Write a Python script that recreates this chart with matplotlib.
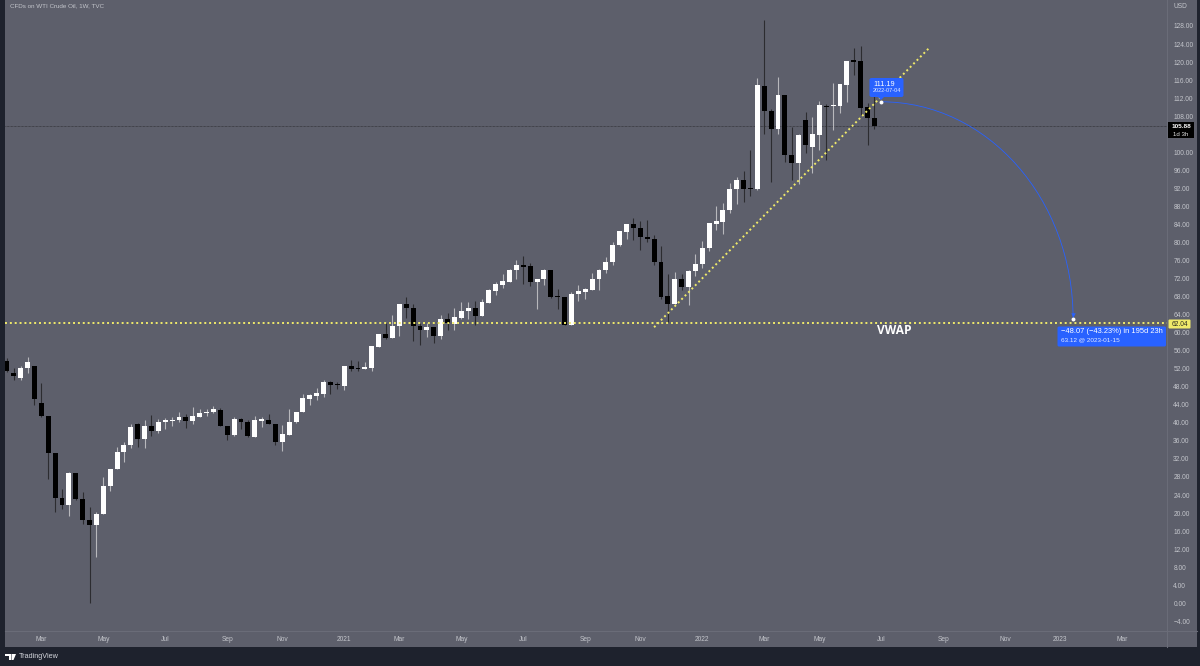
import datetime as dt
import matplotlib; matplotlib.use('Agg')
import matplotlib.pyplot as plt
import matplotlib.dates as mdates
from matplotlib.patches import FancyBboxPatch, PathPatch, Polygon, Rectangle
from matplotlib.path import Path

# weekly WTI candles, first bar 2020-01-27
first_week = dt.date(2020, 1, 27)
opens = [53.7, 51.1, 50.0, 52.2, 52.5, 44.3, 41.5, 33.3, 23.4, 21.8,
         28.8, 23.2, 18.4, 17.3, 19.7, 26.1, 29.7, 33.5, 35.2, 39.8,
         36.4, 39.4, 38.1, 40.2, 40.4, 40.6, 41.2, 40.5, 41.4, 42.1,
         42.3, 42.9, 39.4, 37.2, 40.9, 40.1, 36.9, 40.5, 40.7, 39.7,
         35.7, 37.4, 40.1, 42.3, 45.4, 46.0, 46.5, 49.1, 48.4, 48.2,
         52.6, 52.1, 52.0, 52.1, 56.9, 59.6, 58.9, 61.4, 66.3, 65.5,
         61.4, 60.7, 61.3, 59.3, 63.0, 61.9, 63.3, 64.7, 65.4, 63.7,
         66.5, 69.2, 70.6, 71.2, 73.9, 75.1, 74.7, 71.3, 71.9, 73.8,
         68.1, 67.9, 61.7, 68.5, 69.1, 69.5, 71.8, 73.9, 75.6, 79.4,
         82.4, 84.1, 83.2, 81.3, 80.8, 75.7, 68.1, 66.4, 71.9, 70.2,
         73.6, 75.2, 78.7, 84.2, 84.5, 87.1, 91.9, 93.9, 92.1, 91.8,
         114.8, 109.1, 105.2, 112.6, 99.3, 97.7, 107.2, 101.2, 103.8, 110.3,
         110.3, 110.3, 115.0, 120.4, 120.2, 110.0, 107.5]
highs = [54.3, 52.2, 52.5, 54.5, 52.5, 48.8, 41.5, 33.3, 25.3, 29.2,
         28.9, 24.6, 21.3, 20.3, 27.9, 29.8, 34.6, 35.7, 39.8, 40.0,
         40.6, 41.7, 40.8, 41.0, 41.2, 42.5, 41.9, 43.6, 43.0, 43.0,
         43.8, 43.4, 39.4, 41.4, 41.1, 40.6, 41.5, 41.2, 41.9, 39.7,
         39.5, 43.0, 42.5, 46.4, 46.5, 47.7, 49.4, 49.2, 49.1, 52.6,
         53.9, 53.8, 53.5, 57.0, 59.7, 62.2, 63.9, 66.3, 68.0, 66.4,
         62.2, 62.2, 61.3, 63.9, 64.3, 65.5, 66.8, 66.7, 67.0, 67.4,
         69.6, 71.2, 73.0, 74.1, 76.1, 76.9, 75.4, 72.0, 74.2, 73.8,
         69.6, 68.0, 69.0, 70.6, 69.9, 73.2, 74.1, 76.7, 80.0, 82.5,
         84.1, 85.4, 84.8, 85.0, 81.7, 79.2, 72.9, 73.4, 73.0, 74.0,
         77.4, 80.4, 84.3, 88.0, 88.8, 93.1, 94.6, 95.8, 100.5, 116.4,
         129.3, 109.5, 116.6, 112.6, 105.5, 104.1, 108.9, 107.9, 111.3, 110.6,
         115.4, 115.1, 120.3, 123.2, 123.6, 111.0, 113.8]
lows = [51.2, 49.5, 49.5, 51.0, 44.0, 41.2, 27.5, 20.2, 21.0, 19.4,
        22.8, 17.6, 0.1, 10.3, 19.7, 25.0, 29.7, 31.3, 34.4, 34.6,
        34.4, 37.1, 37.7, 38.6, 39.2, 40.1, 38.9, 39.7, 41.2, 41.5,
        42.2, 39.3, 36.2, 37.0, 38.7, 36.9, 36.9, 39.1, 39.7, 35.1,
        33.8, 37.3, 40.0, 42.3, 44.0, 45.1, 45.8, 46.3, 47.6, 47.3,
        51.6, 51.6, 51.9, 51.6, 56.9, 58.7, 58.9, 59.3, 63.3, 58.2,
        57.3, 59.0, 57.7, 58.7, 60.6, 60.7, 63.1, 63.1, 61.7, 63.7,
        66.5, 68.4, 69.9, 71.2, 72.0, 70.8, 70.4, 65.2, 70.6, 67.7,
        65.2, 61.7, 61.7, 67.1, 67.5, 69.5, 69.5, 73.2, 75.0, 79.2,
        80.8, 80.6, 78.3, 80.0, 75.1, 67.4, 62.4, 66.4, 69.5, 66.2,
        72.6, 74.4, 78.0, 82.8, 81.9, 86.5, 88.5, 89.0, 90.2, 91.6,
        104.1, 93.5, 104.1, 97.8, 93.9, 92.9, 99.9, 95.3, 100.4, 98.3,
        104.9, 108.6, 111.2, 117.1, 108.3, 101.5, 105.1]
closes = [51.6, 50.4, 52.2, 53.4, 45.2, 41.5, 33.3, 23.4, 21.8, 28.8,
          23.1, 18.4, 17.3, 19.8, 26.1, 29.8, 33.5, 35.2, 39.0, 36.5,
          39.4, 38.1, 40.3, 40.6, 40.6, 41.2, 40.5, 41.5, 42.2, 42.3,
          43.0, 39.4, 37.3, 40.9, 40.1, 37.0, 40.6, 40.8, 39.7, 35.8,
          37.5, 40.1, 42.5, 45.5, 46.1, 46.6, 49.1, 48.3, 48.3, 52.6,
          52.0, 52.0, 52.3, 57.0, 59.6, 58.9, 61.5, 66.3, 65.5, 61.4,
          60.7, 61.3, 59.3, 63.1, 62.1, 63.5, 64.8, 65.5, 63.8, 66.7,
          69.4, 70.8, 71.5, 74.0, 75.1, 74.6, 71.3, 72.0, 73.8, 67.9,
          67.9, 61.7, 68.6, 69.2, 69.6, 71.8, 74.0, 75.7, 79.4, 82.5,
          84.1, 83.1, 81.2, 80.8, 75.6, 68.0, 66.4, 71.9, 70.2, 73.7,
          75.3, 78.8, 84.3, 84.8, 87.2, 91.9, 93.9, 91.9, 91.9, 114.9,
          109.1, 105.2, 112.6, 99.3, 97.7, 103.8, 101.6, 104.1, 110.4, 110.0,
          110.5, 115.1, 120.3, 120.1, 109.9, 107.5, 105.88]

# 104.00 sits under the current price tag in the original
price_ticks = [p for p in range(-4, 132, 4) if p != 104]
month_ticks = ['2020-03-02', '2020-05-04', '2020-07-06', '2020-09-07', '2020-11-02',
               '2021-01-04', '2021-03-01', '2021-05-03', '2021-07-05', '2021-09-06',
               '2021-11-01', '2022-01-03', '2022-03-07', '2022-05-02', '2022-07-04',
               '2022-09-05', '2022-11-07', '2023-01-02', '2023-03-06']
month_labels = ['Mar', 'May', 'Jul', 'Sep', 'Nov', '2021', 'Mar', 'May', 'Jul', 'Sep',
                'Nov', '2022', 'Mar', 'May', 'Jul', 'Sep', 'Nov', '2023', 'Mar']

vwap = 62.04
last_price = 105.88
trend_dates = ['2021-11-15', '2022-08-22']
trend_prices = [61.2, 123.2]
proj_start = ('2022-07-04', 111.19)
proj_end = ('2023-01-15', 63.12)

PANE = '#5d5f6b'
DARK = '#1e222d'
BLUE = '#2962ff'
YELLOW = '#f0ea6a'
TEXT = '#c3c5cb'
plt.rcParams['font.family'] = ['Liberation Sans', 'DejaVu Sans']


def num(day):
    return mdates.date2num(dt.date.fromisoformat(day))


fig = plt.figure(figsize=(12, 6.66), dpi=100, facecolor=DARK)

# page furniture in pixel coordinates
bg = fig.add_axes([0, 0, 1, 1], zorder=0)
bg.set_xlim(0, 1200); bg.set_ylim(666, 0); bg.axis('off')
bg.add_patch(Rectangle((5, 0), 1192, 647, fc=PANE, ec='none'))
bg.plot([1167, 1167], [0, 647], color='#6a6c78', lw=0.8)
bg.plot([5, 1197], [631, 631], color='#6a6c78', lw=0.8)

ax = fig.add_axes([5 / 1200, 1 - 631 / 666, 1162 / 1200, 631 / 666], zorder=1)
ax.patch.set_alpha(0)
for s in ax.spines.values():
    s.set_visible(False)

# -- candles
week_px = 6.885
days = [mdates.date2num(first_week) + 7 * i for i in range(len(opens))]
colors = ['white' if c >= o else 'black' for o, c in zip(opens, closes)]
wick_cols = ['#b8b8bc' if c == 'white' else '#2c2c30' for c in colors]
ax.vlines(days, lows, highs, colors=wick_cols, lw=0.8, zorder=2)
ax.bar(days, [max(abs(c - o), 0.25) for o, c in zip(opens, closes)],
       bottom=[min(o, c) for o, c in zip(opens, closes)],
       width=5.0, color=colors, lw=0, zorder=3)

ax.set_xlim(days[0] - 1.9 * 7 / week_px, days[0] + 1160.1 * 7 / week_px)
ax.set_ylim(-6.15, 133.76)

# -- levels and drawings
dots = (0, (1, 1.5))
ax.axhline(last_price, color='#26262a', lw=0.5, ls=(0, (1, 1)), zorder=1)
ax.axhline(vwap, color=YELLOW, lw=1.4, ls=dots, zorder=4)
ax.plot([num(d) for d in trend_dates], trend_prices, color=YELLOW, lw=1.4, ls=dots, zorder=4)

x0, y0 = num(proj_start[0]), proj_start[1]
x1, y1 = num(proj_end[0]), proj_end[1]
k = 0.5523
curve = Path([(x0, y0), (x0 + k * (x1 - x0), y0), (x1, y1 + k * (y0 - y1)), (x1, y1)],
             [Path.MOVETO, Path.CURVE4, Path.CURVE4, Path.CURVE4])
ax.add_patch(PathPatch(curve, fc='none', ec=BLUE, lw=0.6, zorder=5))
ax.plot([x1], [y1 + 0.7], ls='none', marker='v', ms=3.2, mfc=BLUE, mec='none', zorder=5)
ax.plot([x0, x1], [y0, y1], ls='none', marker='o', ms=2.8, mfc='white', mec='none', zorder=6)

# -- axes text
ax.yaxis.tick_right()
ax.set_yticks(price_ticks, [f'{p:.2f}'.replace('-', '\u2212') for p in price_ticks])
ax.set_xticks([num(d) for d in month_ticks], month_labels)
ax.tick_params(axis='y', length=0, pad=4.5, labelsize=4.8, labelcolor=TEXT)
ax.tick_params(axis='x', length=0, pad=3.7, labelsize=4.8, labelcolor=TEXT)

# overlay: labels and boxes, pixel coordinates
top = fig.add_axes([0, 0, 1, 1], zorder=2)
top.set_xlim(0, 1200); top.set_ylim(666, 0); top.axis('off')
top.patch.set_alpha(0)

top.text(10, 5.5, 'CFDs on WTI Crude Oil, 1W, TVC', color=TEXT, fontsize=4.5, va='center')
top.text(1173, 6, 'USD', color=TEXT, fontsize=4.8, va='center')

# current price tag
top.add_patch(Rectangle((1168, 122), 26, 16, fc='black', ec='none'))
top.text(1181, 126.7, f'{last_price:.2f}', color='white', fontsize=4.6, ha='center', va='center', weight='bold')
top.text(1181, 134, '1d 3h', color='#e4e4e4', fontsize=4.4, ha='center', va='center')

# vwap tag
top.add_patch(FancyBboxPatch((1169, 320), 21, 8, boxstyle='round,pad=0.5,rounding_size=1', fc=YELLOW, ec='none'))
top.text(1179.5, 324, f'{vwap:.2f}', color='#2a2a20', fontsize=4.8, ha='center', va='center')
top.text(894, 331, 'VWAP', color='white', fontsize=8.6, weight='bold', ha='center', va='center',
         family=['Open Sans', 'DejaVu Sans'])

# projection labels
top.add_patch(FancyBboxPatch((870, 78.5), 33, 18, boxstyle='round,pad=0.5,rounding_size=2', fc=BLUE, ec='none'))
top.add_patch(Polygon([(878, 97), (884, 97), (881, 100)], fc=BLUE, ec='none'))
top.text(873, 84, '111.19', color='white', fontsize=5.2, va='center')
top.text(873, 91, '2022-07-04', color='#e6ebff', fontsize=4.0, va='center')

top.add_patch(FancyBboxPatch((1058, 327), 107.5, 19, boxstyle='round,pad=0.5,rounding_size=1.5', fc=BLUE, ec='none'))
top.text(1061, 331.5, '\u221248.07 (\u221243.23%) in 195d 23h', color='white', fontsize=5.4, va='center')
top.text(1061, 339.5, '63.12 @ 2023-01-15', color='#e6ebff', fontsize=4.6, va='center')

# footer
top.add_patch(Polygon([(5, 654), (11, 654), (11, 660), (8.5, 660), (8.5, 656), (5, 656)], fc='white', ec='none'))
top.add_patch(Polygon([(11.5, 654), (16, 654), (13.5, 660), (11.5, 660)], fc='white', ec='none'))
top.text(18.5, 657, 'TradingView', color='#d4d6dc', fontsize=5.2, va='center')

fig.savefig('out.png', dpi=100, facecolor=DARK)
